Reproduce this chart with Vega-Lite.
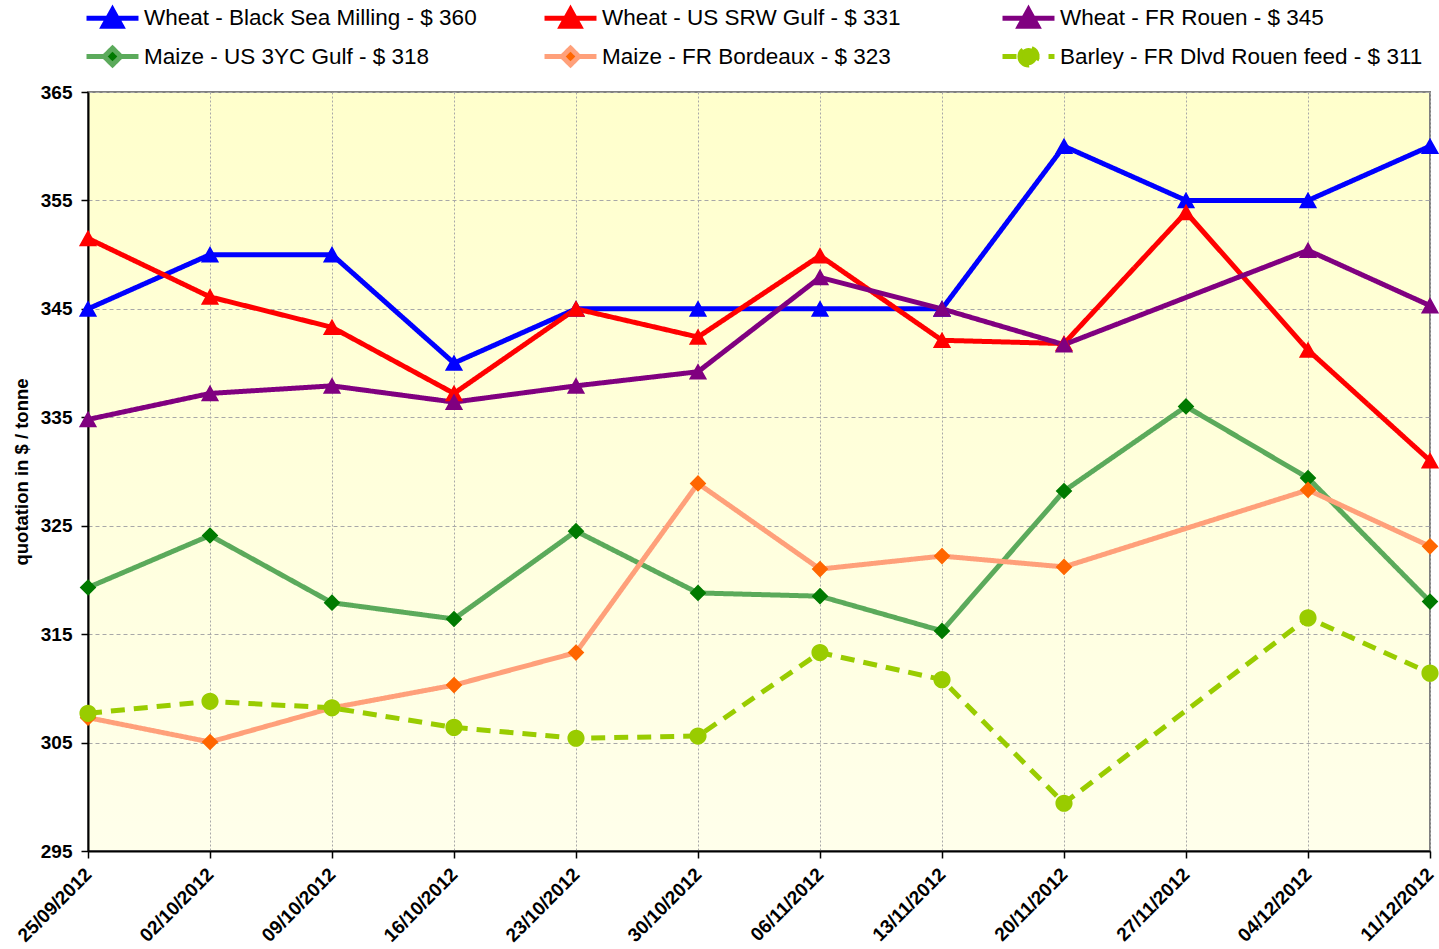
{
  "$schema": "https://vega.github.io/schema/vega-lite/v6.json",
  "width": 1342,
  "height": 759,
  "autosize": {"type": "none"},
  "padding": {"left": 88, "top": 92, "right": 9, "bottom": 98},
  "background": "white",
  "view": {
    "fill": {"gradient": "linear", "x1": 0, "y1": 0, "x2": 0, "y2": 1, "stops": [{"offset": 0, "color": "#FFFFCC"}, {"offset": 1, "color": "#FFFFEB"}]},
    "stroke": "#808080",
    "strokeWidth": 2
  },
  "config": {
    "font": "Liberation Sans",
    "axis": {"labelFont": "Liberation Sans", "titleFont": "Liberation Sans", "labelColor": "black", "titleColor": "black", "domainColor": "black", "domainWidth": 2, "tickColor": "black", "tickWidth": 1.5, "tickSize": 7},
    "legend": {
      "title": null,
      "orient": "none",
      "legendX": 7,
      "legendY": -92,
      "direction": "horizontal",
      "columns": 3,
      "gridAlign": "all",
      "columnPadding": 27,
      "rowPadding": 0,
      "symbolSize": 900,
      "symbolStrokeWidth": 4.5,
      "symbolOpacity": 1,
      "labelFont": "Liberation Sans",
      "labelFontSize": 22.5,
      "labelColor": "black",
      "labelOffset": 14,
      "labelLimit": 0
    }
  },
  "data": {
    "values": [
      {"d": "2012-09-25", "s": "Wheat - Black Sea Milling - $ 360", "v": 345},
      {"d": "2012-10-02", "s": "Wheat - Black Sea Milling - $ 360", "v": 350},
      {"d": "2012-10-09", "s": "Wheat - Black Sea Milling - $ 360", "v": 350},
      {"d": "2012-10-16", "s": "Wheat - Black Sea Milling - $ 360", "v": 340},
      {"d": "2012-10-23", "s": "Wheat - Black Sea Milling - $ 360", "v": 345},
      {"d": "2012-10-30", "s": "Wheat - Black Sea Milling - $ 360", "v": 345},
      {"d": "2012-11-06", "s": "Wheat - Black Sea Milling - $ 360", "v": 345},
      {"d": "2012-11-13", "s": "Wheat - Black Sea Milling - $ 360", "v": 345},
      {"d": "2012-11-20", "s": "Wheat - Black Sea Milling - $ 360", "v": 360},
      {"d": "2012-11-27", "s": "Wheat - Black Sea Milling - $ 360", "v": 355},
      {"d": "2012-12-04", "s": "Wheat - Black Sea Milling - $ 360", "v": 355},
      {"d": "2012-12-11", "s": "Wheat - Black Sea Milling - $ 360", "v": 360},
      {"d": "2012-09-25", "s": "Wheat - US SRW Gulf - $ 331", "v": 351.5},
      {"d": "2012-10-02", "s": "Wheat - US SRW Gulf - $ 331", "v": 346.1},
      {"d": "2012-10-09", "s": "Wheat - US SRW Gulf - $ 331", "v": 343.3},
      {"d": "2012-10-16", "s": "Wheat - US SRW Gulf - $ 331", "v": 337.2},
      {"d": "2012-10-23", "s": "Wheat - US SRW Gulf - $ 331", "v": 345},
      {"d": "2012-10-30", "s": "Wheat - US SRW Gulf - $ 331", "v": 342.4},
      {"d": "2012-11-06", "s": "Wheat - US SRW Gulf - $ 331", "v": 349.9},
      {"d": "2012-11-13", "s": "Wheat - US SRW Gulf - $ 331", "v": 342.1},
      {"d": "2012-11-20", "s": "Wheat - US SRW Gulf - $ 331", "v": 341.8},
      {"d": "2012-11-27", "s": "Wheat - US SRW Gulf - $ 331", "v": 353.9},
      {"d": "2012-12-04", "s": "Wheat - US SRW Gulf - $ 331", "v": 341.2},
      {"d": "2012-12-11", "s": "Wheat - US SRW Gulf - $ 331", "v": 331},
      {"d": "2012-09-25", "s": "Wheat - FR Rouen - $ 345", "v": 334.8},
      {"d": "2012-10-02", "s": "Wheat - FR Rouen - $ 345", "v": 337.2},
      {"d": "2012-10-09", "s": "Wheat - FR Rouen - $ 345", "v": 337.9},
      {"d": "2012-10-16", "s": "Wheat - FR Rouen - $ 345", "v": 336.4},
      {"d": "2012-10-23", "s": "Wheat - FR Rouen - $ 345", "v": 337.9},
      {"d": "2012-10-30", "s": "Wheat - FR Rouen - $ 345", "v": 339.2},
      {"d": "2012-11-06", "s": "Wheat - FR Rouen - $ 345", "v": 347.9},
      {"d": "2012-11-13", "s": "Wheat - FR Rouen - $ 345", "v": 345},
      {"d": "2012-11-20", "s": "Wheat - FR Rouen - $ 345", "v": 341.7},
      {"d": "2012-12-04", "s": "Wheat - FR Rouen - $ 345", "v": 350.4},
      {"d": "2012-12-11", "s": "Wheat - FR Rouen - $ 345", "v": 345.3},
      {"d": "2012-09-25", "s": "Maize - US 3YC Gulf - $ 318", "v": 319.3},
      {"d": "2012-10-02", "s": "Maize - US 3YC Gulf - $ 318", "v": 324.1},
      {"d": "2012-10-09", "s": "Maize - US 3YC Gulf - $ 318", "v": 317.9},
      {"d": "2012-10-16", "s": "Maize - US 3YC Gulf - $ 318", "v": 316.4},
      {"d": "2012-10-23", "s": "Maize - US 3YC Gulf - $ 318", "v": 324.5},
      {"d": "2012-10-30", "s": "Maize - US 3YC Gulf - $ 318", "v": 318.8},
      {"d": "2012-11-06", "s": "Maize - US 3YC Gulf - $ 318", "v": 318.5},
      {"d": "2012-11-13", "s": "Maize - US 3YC Gulf - $ 318", "v": 315.3},
      {"d": "2012-11-20", "s": "Maize - US 3YC Gulf - $ 318", "v": 328.2},
      {"d": "2012-11-27", "s": "Maize - US 3YC Gulf - $ 318", "v": 336},
      {"d": "2012-12-04", "s": "Maize - US 3YC Gulf - $ 318", "v": 329.4},
      {"d": "2012-12-11", "s": "Maize - US 3YC Gulf - $ 318", "v": 318},
      {"d": "2012-09-25", "s": "Maize - FR Bordeaux - $ 323", "v": 307.3},
      {"d": "2012-10-02", "s": "Maize - FR Bordeaux - $ 323", "v": 305.05},
      {"d": "2012-10-09", "s": "Maize - FR Bordeaux - $ 323", "v": 308.2},
      {"d": "2012-10-16", "s": "Maize - FR Bordeaux - $ 323", "v": 310.3},
      {"d": "2012-10-23", "s": "Maize - FR Bordeaux - $ 323", "v": 313.3},
      {"d": "2012-10-30", "s": "Maize - FR Bordeaux - $ 323", "v": 328.9},
      {"d": "2012-11-06", "s": "Maize - FR Bordeaux - $ 323", "v": 321},
      {"d": "2012-11-13", "s": "Maize - FR Bordeaux - $ 323", "v": 322.2},
      {"d": "2012-11-20", "s": "Maize - FR Bordeaux - $ 323", "v": 321.2},
      {"d": "2012-12-04", "s": "Maize - FR Bordeaux - $ 323", "v": 328.3},
      {"d": "2012-12-11", "s": "Maize - FR Bordeaux - $ 323", "v": 323.1},
      {"d": "2012-09-25", "s": "Barley - FR Dlvd Rouen feed - $ 311", "v": 307.7},
      {"d": "2012-10-02", "s": "Barley - FR Dlvd Rouen feed - $ 311", "v": 308.8},
      {"d": "2012-10-09", "s": "Barley - FR Dlvd Rouen feed - $ 311", "v": 308.2},
      {"d": "2012-10-16", "s": "Barley - FR Dlvd Rouen feed - $ 311", "v": 306.4},
      {"d": "2012-10-23", "s": "Barley - FR Dlvd Rouen feed - $ 311", "v": 305.4},
      {"d": "2012-10-30", "s": "Barley - FR Dlvd Rouen feed - $ 311", "v": 305.6},
      {"d": "2012-11-06", "s": "Barley - FR Dlvd Rouen feed - $ 311", "v": 313.3},
      {"d": "2012-11-13", "s": "Barley - FR Dlvd Rouen feed - $ 311", "v": 310.8},
      {"d": "2012-11-20", "s": "Barley - FR Dlvd Rouen feed - $ 311", "v": 299.4},
      {"d": "2012-12-04", "s": "Barley - FR Dlvd Rouen feed - $ 311", "v": 316.5},
      {"d": "2012-12-11", "s": "Barley - FR Dlvd Rouen feed - $ 311", "v": 311.4}
    ]
  },
  "encoding": {
    "x": {
      "field": "d", "type": "temporal",
      "scale": {"type": "utc", "nice": false},
      "axis": {
        "title": null,
        "values": [
          {"year": 2012, "month": 9, "date": 25, "utc": true},
          {"year": 2012, "month": 10, "date": 2, "utc": true},
          {"year": 2012, "month": 10, "date": 9, "utc": true},
          {"year": 2012, "month": 10, "date": 16, "utc": true},
          {"year": 2012, "month": 10, "date": 23, "utc": true},
          {"year": 2012, "month": 10, "date": 30, "utc": true},
          {"year": 2012, "month": 11, "date": 6, "utc": true},
          {"year": 2012, "month": 11, "date": 13, "utc": true},
          {"year": 2012, "month": 11, "date": 20, "utc": true},
          {"year": 2012, "month": 11, "date": 27, "utc": true},
          {"year": 2012, "month": 12, "date": 4, "utc": true},
          {"year": 2012, "month": 12, "date": 11, "utc": true}
        ],
        "format": "%d/%m/%Y",
        "labelAngle": -45,
        "labelAlign": "right",
        "labelBaseline": "middle",
        "labelFontSize": 19,
        "labelFontWeight": "bold",
        "labelOverlap": false,
        "labelBound": false,
        "labelPadding": 13,
        "grid": true,
        "gridColor": "#A8A8A8",
        "gridDash": [2, 2],
        "gridWidth": 1
      }
    },
    "y": {
      "field": "v", "type": "quantitative",
      "scale": {"domain": [295, 365], "nice": false, "zero": false},
      "axis": {
        "values": [295, 305, 315, 325, 335, 345, 355, 365],
        "title": "quotation in $ / tonne",
        "titleFontSize": 18.5,
        "titleFontWeight": "bold",
        "titlePadding": 9,
        "labelFontSize": 19,
        "labelFontWeight": "bold",
        "labelPadding": 9,
        "gridColor": "#A8A8A8",
        "gridDash": [4, 3],
        "gridWidth": 1
      }
    }
  },
  "layer": [
    {
      "mark": {"type": "line", "strokeJoin": "miter"},
      "encoding": {
        "stroke": {
          "field": "s", "type": "nominal",
          "scale": {
            "domain": ["Wheat - Black Sea Milling - $ 360", "Wheat - US SRW Gulf - $ 331", "Wheat - FR Rouen - $ 345", "Maize - US 3YC Gulf - $ 318", "Maize - FR Bordeaux - $ 323", "Barley - FR Dlvd Rouen feed - $ 311"],
            "range": ["#0000FF", "#FF0000", "#800080", "#5BAA5B", "#FFA07A", "#99CC00"]
          }
        },
        "strokeDash": {
          "field": "s", "type": "nominal",
          "scale": {
            "domain": ["Wheat - Black Sea Milling - $ 360", "Wheat - US SRW Gulf - $ 331", "Wheat - FR Rouen - $ 345", "Maize - US 3YC Gulf - $ 318", "Maize - FR Bordeaux - $ 323", "Barley - FR Dlvd Rouen feed - $ 311"],
            "range": [[1, 0], [1, 0], [1, 0], [1, 0], [1, 0], [14, 9]]
          }
        },
        "strokeWidth": {
          "field": "s", "type": "nominal",
          "scale": {
            "domain": ["Wheat - Black Sea Milling - $ 360", "Wheat - US SRW Gulf - $ 331", "Wheat - FR Rouen - $ 345", "Maize - US 3YC Gulf - $ 318", "Maize - FR Bordeaux - $ 323", "Barley - FR Dlvd Rouen feed - $ 311"],
            "range": [5, 5, 5, 5.5, 5.5, 5]
          }
        }
      }
    },
    {
      "mark": {"type": "point", "filled": true, "opacity": 1, "strokeWidth": 0, "size": 900},
      "encoding": {
        "fill": {
          "field": "s", "type": "nominal",
          "scale": {
            "domain": ["Wheat - Black Sea Milling - $ 360", "Wheat - US SRW Gulf - $ 331", "Wheat - FR Rouen - $ 345", "Maize - US 3YC Gulf - $ 318", "Maize - FR Bordeaux - $ 323", "Barley - FR Dlvd Rouen feed - $ 311"],
            "range": ["#0000FF", "#FF0000", "#800080", "#007A00", "#FF6600", "#99CC00"]
          }
        },
        "shape": {
          "field": "s", "type": "nominal",
          "scale": {
            "domain": ["Wheat - Black Sea Milling - $ 360", "Wheat - US SRW Gulf - $ 331", "Wheat - FR Rouen - $ 345", "Maize - US 3YC Gulf - $ 318", "Maize - FR Bordeaux - $ 323", "Barley - FR Dlvd Rouen feed - $ 311"],
            "range": [
              "M-1.733,0L1.733,0M-0.607,0.52L0,-0.572L0.607,0.52Z",
              "M-1.733,0L1.733,0M-0.607,0.52L0,-0.572L0.607,0.52Z",
              "M-1.733,0L1.733,0M-0.607,0.52L0,-0.572L0.607,0.52Z",
              "M-1.733,0L-0.555,0M0.555,0L1.733,0M0,-0.555L0.555,0L0,0.555L-0.555,0Z",
              "M-1.733,0L-0.555,0M0.555,0L1.733,0M0,-0.555L0.555,0L0,0.555L-0.555,0Z",
              "M-1.733,0L1.733,0M-0.572,0A0.572,0.572 0 1,0 0.572,0A0.572,0.572 0 1,0 -0.572,0Z"
            ]
          }
        }
      }
    }
  ]
}
